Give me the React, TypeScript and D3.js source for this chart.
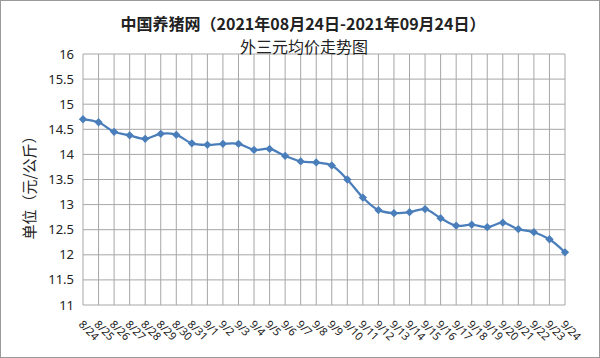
import React from 'react'
import * as d3 from 'd3'

const dates = [
	'8/24', '8/25', '8/26', '8/27', '8/28', '8/29', '8/30', '8/31',
	'9/1', '9/2', '9/3', '9/4', '9/5', '9/6', '9/7', '9/8', '9/9', '9/10',
	'9/11', '9/12', '9/13', '9/14', '9/15', '9/16', '9/17', '9/18', '9/19',
	'9/20', '9/21', '9/22', '9/23', '9/24',
]

const prices = [
	14.7, 14.64, 14.45, 14.38, 14.31, 14.41, 14.39, 14.22,
	14.19, 14.21, 14.21, 14.09, 14.11, 13.97, 13.86, 13.84, 13.78, 13.5,
	13.14, 12.89, 12.83, 12.85, 12.91, 12.73, 12.58, 12.6, 12.55,
	12.64, 12.51, 12.45, 12.31, 12.05,
]

const yTicks = [11, 11.5, 12, 12.5, 13, 13.5, 14, 14.5, 15, 15.5, 16]

const titleLine1 = '中国养猪网（2021年08月24日-2021年09月24日）'
const titleLine2 = '外三元均价走势图'
const yLabel = '单位（元/公斤）'

const width = 600
const height = 358
const margin = { left: 83, right: 35, top: 54, bottom: 53 }

const App = () => {
	const x = d3
		.scalePoint()
		.domain(dates)
		.range([margin.left, width - margin.right])

	const y = d3
		.scaleLinear()
		.domain([11, 16])
		.range([height - margin.bottom, margin.top])

	const line = d3
		.line<number>()
		.x((d, i) => x(dates[i]))
		.y(d => y(d))
		.curve(d3.curveCatmullRom.alpha(0.5))

	// excel style diamond markers
	const diamond = d3.symbol().type(d3.symbolDiamond2).size(44)()

	const grid = '#a6a6a6'
	const cjk = '"Noto Sans CJK SC", "Noto Sans", sans-serif'
	const num = '"Noto Sans", "DejaVu Sans", sans-serif'

	return (
		<svg
			width={width}
			height={height}
			style={{ position: 'absolute', left: 0, top: 0, background: '#fff' }}
		>
			<rect x={0.5} y={0.5} width={width - 1} height={height - 1} fill="#fff" stroke="#9a9a9a" />

			{yTicks.map(t => (
				<line key={'h' + t} x1={margin.left} x2={width - margin.right} y1={y(t)} y2={y(t)} stroke={grid} />
			))}
			{dates.map(d => (
				<line key={'v' + d} x1={x(d)} x2={x(d)} y1={margin.top} y2={height - margin.bottom} stroke={grid} />
			))}

			{yTicks.map(t => (
				<text
					key={'t' + t}
					x={74}
					y={y(t)}
					dy="0.35em"
					textAnchor="end"
					fontFamily={num}
					fontSize={13}
					fill="#222"
				>
					{t}
				</text>
			))}

			{dates.map(d => (
				<text
					key={'x' + d}
					transform={`translate(${x(d) - 5},${height - margin.bottom + 20}) rotate(45)`}
					fontFamily={num}
					fontSize={11}
					fill="#222"
				>
					{d}
				</text>
			))}

			<path d={line(prices) || ''} fill="none" stroke="#4a7ebb" strokeWidth={2.25} />
			{prices.map((p, i) => (
				<path key={'m' + i} d={diamond || ''} transform={`translate(${x(dates[i])},${y(p)})`} fill="#4a7ebb" />
			))}

			<text x={303} y={30} textAnchor="middle" fontFamily={cjk} fontSize={16} fontWeight="bold" fill="#222">
				{titleLine1}
			</text>
			<text x={304} y={53} textAnchor="middle" fontFamily={cjk} fontSize={16} fill="#222">
				{titleLine2}
			</text>

			<text
				transform={`translate(35,184) rotate(-90)`}
				textAnchor="middle"
				fontFamily={cjk}
				fontSize={15}
				fill="#222"
			>
				{yLabel}
			</text>
		</svg>
	)
}

export default App
